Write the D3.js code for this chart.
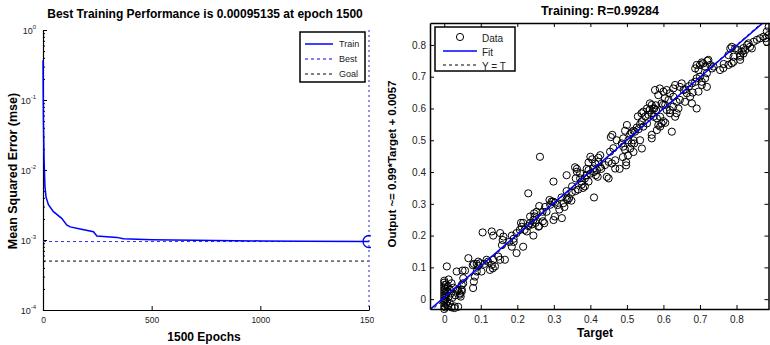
<!DOCTYPE html>
<html>
<head>
<meta charset="utf-8">
<script src="https://cdn.jsdelivr.net/npm/d3@7"></script>
<style>
  body { margin: 0; background: #fff; }
  svg { font-family: "Liberation Sans", Arial, sans-serif; }
  .bold { font-weight: bold; }
</style>
</head>
<body>
<svg id="chart" width="770" height="345"></svg>
<script>
// ---- left panel data: training performance ----
var epochs = [0, 1, 2, 5, 9, 14, 25, 48, 86, 109, 125, 171, 232, 248, 340, 370, 500, 700, 1000, 1200, 1500];
var mse = [0.37, 0.12, 0.05, 0.0139, 0.0058, 0.0041, 0.0032, 0.00254, 0.00204, 0.00164, 0.00154, 0.00144,
           0.00131, 0.00114, 0.00109, 0.00104, 0.00101, 0.00099, 0.00097, 0.00096, 0.00095135];
var bestEpoch = 1500, bestPerf = 0.00095135, goal = 0.0005;
var epochTicks = [0, 500, 1000, 1500];
var decadeExps = [0, -1, -2, -3, -4];
var perfLegend = ["Train", "Best", "Goal"];

// ---- right panel data: regression (target, output) ----
var fitSlope = 0.99, fitOffset = 0.0057, rValue = 0.99284;
var regTicks = [0, 0.1, 0.2, 0.3, 0.4, 0.5, 0.6, 0.7, 0.8];
var regLegend = ["Data", "Fit", "Y = T"];
var trainPoints = [
  // targets near zero
  [0,-0.031],[0,-0.022],[0,-0.012],[0,-0.004],[0,0.004],[0,0.012],[0,0.02],[0,0.028],[0,0.036],[0,0.044],[0,0.052],[0,0.058],
  [0.003,-0.026],[0.003,0],[0.003,0.032],[0.005,-0.016],[0.005,0.016],[0.005,0.046],[0.008,-0.008],[0.008,0.024],
  [0.01,-0.02],[0.01,0.04],[0.012,0.008],[0.012,0.062],[0.015,-0.012],[0.015,0.03],[0.018,0.018],[0.02,-0.026],
  [0.02,0.05],[0.022,0.004],[0.025,0.036],[0.028,-0.028],[0.03,0.012],[0.035,0.026],[0.038,-0.024],[0.043,0.018],
  [0.045,0.008],[0.048,0.03],
  // 0.0 - 0.25
  [0.007,0.103],[0.034,0.087],[0.05,0.09],[0.057,0.09],[0.066,0.129],[0.078,0.107],[0.081,0.111],[0.089,0.111],
  [0.093,0.104],[0.098,0.113],[0.093,0.118],[0.11,0.111],[0.116,0.124],[0.089,0.087],[0.102,0.087],[0.084,0.071],
  [0.081,0.055],[0.079,0.035],[0.052,0.066],[0.052,0.05],[0.048,0.045],[0.043,0.014],[0.038,0.029],[0.048,0.024],
  [0.029,-0.023],[0.148,0.134],[0.153,0.124],[0.166,0.124],[0.198,0.145],[0.216,0.165],[0.134,0.124],[0.125,0.092],
  [0.133,0.097],[0.139,0.103],[0.12,0.118],[0.13,0.108],[0.105,0.21],[0.134,0.2],[0.13,0.213],[0.162,0.197],
  [0.153,0.208],[0.16,0.186],[0.158,0.17],[0.178,0.18],[0.185,0.165],[0.19,0.18],[0.185,0.2],[0.198,0.208],
  [0.207,0.218],[0.212,0.228],[0.226,0.213],[0.23,0.23],[0.235,0.239],[0.244,0.2],[0.216,0.24],[0.21,0.24],
  [0.22,0.218],[0.19,0.19],
  // 0.23 - 0.35
  [0.246,0.27],[0.253,0.275],[0.26,0.293],[0.248,0.26],[0.235,0.26],[0.244,0.249],[0.267,0.26],[0.269,0.275],
  [0.28,0.275],[0.276,0.29],[0.29,0.297],[0.294,0.307],[0.298,0.307],[0.303,0.304],[0.288,0.312],[0.299,0.249],
  [0.303,0.26],[0.322,0.255],[0.299,0.37],[0.262,0.448],[0.23,0.333],[0.31,0.296],[0.315,0.282],[0.326,0.302],
  [0.329,0.29],[0.338,0.312],[0.342,0.318],[0.335,0.315],[0.321,0.32],[0.348,0.31],[0.258,0.228],[0.274,0.239],
  [0.26,0.23],[0.27,0.245],[0.25,0.24],[0.24,0.235],
  // 0.33 - 0.47
  [0.335,0.39],[0.363,0.41],[0.372,0.396],[0.35,0.355],[0.359,0.34],[0.367,0.345],[0.335,0.34],[0.349,0.335],
  [0.363,0.401],[0.36,0.38],[0.376,0.36],[0.38,0.35],[0.385,0.355],[0.41,0.32],[0.385,0.38],[0.39,0.39],
  [0.376,0.37],[0.372,0.38],[0.395,0.406],[0.408,0.411],[0.413,0.427],[0.422,0.432],[0.427,0.416],[0.418,0.406],
  [0.4,0.448],[0.427,0.453],[0.422,0.445],[0.44,0.422],[0.45,0.432],[0.459,0.427],[0.468,0.411],[0.468,0.437],
  [0.445,0.385],[0.45,0.38],[0.395,0.43],[0.405,0.44],[0.358,0.415],[0.39,0.41],[0.4,0.395],[0.41,0.4],
  [0.415,0.39],[0.43,0.41],[0.395,0.37],[0.42,0.385],
  // 0.45 - 0.62
  [0.48,0.41],[0.498,0.431],[0.498,0.421],[0.489,0.447],[0.503,0.452],[0.518,0.463],[0.454,0.464],[0.463,0.475],
  [0.456,0.51],[0.46,0.517],[0.472,0.5],[0.486,0.49],[0.49,0.48],[0.495,0.47],[0.49,0.506],[0.495,0.53],
  [0.5,0.548],[0.504,0.5],[0.509,0.52],[0.513,0.525],[0.518,0.53],[0.527,0.54],[0.522,0.527],[0.532,0.535],
  [0.536,0.55],[0.541,0.56],[0.536,0.5],[0.541,0.474],[0.509,0.474],[0.513,0.49],[0.52,0.49],[0.518,0.5],
  [0.545,0.543],[0.55,0.575],[0.555,0.553],[0.559,0.58],[0.568,0.585],[0.573,0.574],[0.582,0.569],[0.591,0.574],
  [0.568,0.611],[0.568,0.517],[0.568,0.506],[0.586,0.548],[0.582,0.532],[0.591,0.543],[0.595,0.553],[0.6,0.56],
  [0.605,0.555],[0.623,0.527],[0.53,0.575],[0.545,0.59],[0.555,0.6],[0.562,0.595],[0.575,0.6],[0.579,0.61],
  [0.54,0.585],
  // 0.56 - 0.72
  [0.6,0.653],[0.609,0.658],[0.618,0.648],[0.627,0.663],[0.632,0.674],[0.627,0.637],[0.614,0.627],[0.605,0.611],
  [0.595,0.616],[0.609,0.595],[0.627,0.606],[0.636,0.621],[0.636,0.585],[0.632,0.574],[0.618,0.585],[0.577,0.658],
  [0.59,0.663],[0.586,0.642],[0.604,0.632],[0.563,0.616],[0.571,0.6],[0.58,0.595],[0.599,0.611],[0.645,0.668],
  [0.65,0.679],[0.655,0.658],[0.664,0.648],[0.673,0.637],[0.678,0.616],[0.641,0.6],[0.618,0.595],[0.645,0.627],
  [0.659,0.621],[0.691,0.6],[0.696,0.653],[0.678,0.679],[0.687,0.684],[0.691,0.695],[0.7,0.7],[0.705,0.684],
  [0.714,0.695],[0.719,0.711],[0.705,0.674],[0.719,0.668],[0.66,0.66],[0.67,0.67],[0.68,0.65],
  // 0.69 - 0.89
  [0.714,0.732],[0.7,0.737],[0.709,0.742],[0.691,0.737],[0.687,0.726],[0.696,0.721],[0.723,0.753],[0.728,0.737],
  [0.733,0.726],[0.737,0.732],[0.755,0.721],[0.764,0.727],[0.778,0.737],[0.787,0.742],[0.792,0.747],[0.81,0.763],
  [0.815,0.779],[0.819,0.79],[0.829,0.8],[0.833,0.805],[0.837,0.794],[0.847,0.81],[0.856,0.816],[0.865,0.821],
  [0.874,0.826],[0.888,0.857],[0.883,0.842],[0.883,0.81],[0.81,0.753],[0.824,0.784],[0.783,0.789],[0.787,0.794],
  [0.796,0.789],[0.805,0.784],[0.778,0.768],[0.792,0.763],[0.81,0.768],[0.819,0.773],[0.842,0.789],[0.879,0.821],
  [0.888,0.831],[0.72,0.75],[0.705,0.745],[0.765,0.74]
];

var svg = d3.select("#chart");
svg.append("rect").attr("width", 770).attr("height", 345).attr("fill", "#fff");

// ================= LEFT: performance =================
var defs = svg.append("defs");
defs.append("clipPath").attr("id", "leftClip")
  .append("rect").attr("x", 0).attr("y", 0).attr("width", 371).attr("height", 345);
defs.append("clipPath").attr("id", "labelClip")
  .append("rect").attr("x", 0).attr("y", 0).attr("width", 374).attr("height", 345);
defs.append("clipPath").attr("id", "regClip")
  .append("rect").attr("x", 430).attr("y", 23).attr("width", 339).attr("height", 286);

var left = svg.append("g").attr("clip-path", "url(#leftClip)");
var xL = d3.scaleLinear().domain([0, 1500]).range([43, 369]);
var yL = d3.scaleLog().domain([1e-4, 1]).range([310, 30]);

// minor log ticks
var minorVals = [];
decadeExps.forEach(function(e) {
  if (e === 0) return;
  for (var k = 2; k <= 9; k++) minorVals.push(k * Math.pow(10, e));
});
left.append("g").attr("transform", "translate(43,0)")
  .call(d3.axisLeft(yL).tickValues(minorVals).tickSize(-2).tickFormat(""))
  .call(function(g) { g.select(".domain").remove(); })
  .selectAll("line").attr("stroke", "#000");

var yAxisL = left.append("g").attr("transform", "translate(43,0)")
  .call(d3.axisLeft(yL).tickValues(decadeExps.map(function(e) { return Math.pow(10, e); }))
    .tickSize(-4).tickFormat(""));
yAxisL.select(".domain").attr("stroke", "#000").attr("stroke-width", 1.2);

// y tick labels 10^e
decadeExps.forEach(function(e) {
  var t = left.append("text").attr("x", 36).attr("y", yL(Math.pow(10, e)) + 3.5)
    .attr("text-anchor", "end").attr("font-size", 9).attr("fill", "#222");
  t.append("tspan").text("10");
  t.append("tspan").attr("dy", -4.5).attr("font-size", 6).text(e);
});

var xAxisL = svg.append("g").attr("clip-path", "url(#labelClip)").append("g")
  .attr("transform", "translate(0,310)")
  .call(d3.axisBottom(xL).tickValues(epochTicks).tickFormat(d3.format("d"))
    .tickSize(-4).tickPadding(7).tickSizeOuter(0));
xAxisL.select(".domain").attr("stroke", "#000").attr("stroke-width", 1.2);
xAxisL.selectAll("text").attr("font-size", 8.5).attr("fill", "#222")
  .attr("font-family", "Liberation Sans, Arial, sans-serif");

// goal and best lines
left.append("line").attr("x1", xL(0)).attr("x2", xL(1500)).attr("y1", yL(goal)).attr("y2", yL(goal))
  .attr("stroke", "#000").attr("stroke-width", 1).attr("stroke-dasharray", "3,3");
left.append("line").attr("x1", xL(0)).attr("x2", xL(1500)).attr("y1", yL(bestPerf)).attr("y2", yL(bestPerf))
  .attr("stroke", "#3333ee").attr("stroke-width", 1).attr("stroke-dasharray", "3,3");
left.append("line").attr("x1", xL(bestEpoch)).attr("x2", xL(bestEpoch)).attr("y1", yL(1)).attr("y2", yL(1e-4))
  .attr("stroke", "#6f6fd8").attr("stroke-width", 1.5).attr("stroke-dasharray", "2,3");

// training curve
var lineL = d3.line().x(function(d, i) { return xL(epochs[i]); }).y(function(d) { return yL(d); });
left.append("path").datum(mse).attr("d", lineL)
  .attr("fill", "none").attr("stroke", "#0000ff").attr("stroke-width", 1.5);
left.append("circle").attr("cx", xL(bestEpoch)).attr("cy", yL(bestPerf)).attr("r", 6)
  .attr("fill", "none").attr("stroke", "#0000ff").attr("stroke-width", 1.3);

// legend
var lg = left.append("g");
lg.append("rect").attr("x", 300).attr("y", 32).attr("width", 65).attr("height", 50)
  .attr("fill", "#fff").attr("stroke", "#000").attr("stroke-width", 1.5);
var perfStyles = [{c: "#0000ff", d: null}, {c: "#0000ff", d: "3,3"}, {c: "#000", d: "3,3"}];
perfLegend.forEach(function(name, i) {
  var y = 44 + i * 15;
  lg.append("line").attr("x1", 305).attr("x2", 333).attr("y1", y).attr("y2", y)
    .attr("stroke", perfStyles[i].c).attr("stroke-width", i === 0 ? 1.5 : 1)
    .attr("stroke-dasharray", perfStyles[i].d);
  lg.append("text").attr("x", 339).attr("y", y).attr("dy", "0.35em")
    .attr("font-size", 9).attr("fill", "#222").text(name);
});

// titles / labels
svg.append("text").attr("class", "bold").attr("x", 205).attr("y", 18).attr("text-anchor", "middle")
  .attr("font-size", 12).text("Best Training Performance is " + bestPerf + " at epoch " + bestEpoch);
svg.append("text").attr("class", "bold").attr("x", 204).attr("y", 341).attr("text-anchor", "middle")
  .attr("font-size", 12).text("1500 Epochs");
svg.append("text").attr("class", "bold").attr("transform", "translate(17,171) rotate(-90)")
  .attr("text-anchor", "middle").attr("font-size", 12.5).text("Mean Squared Error  (mse)");

// ================= RIGHT: regression =================
var xR = d3.scaleLinear().domain([-0.039, 0.889]).range([430, 769]);
var yR = d3.scaleLinear().domain([-0.031, 0.869]).range([309, 23]);
var right = svg.append("g");

// data circles
right.append("g").selectAll("circle").data(trainPoints).enter().append("circle")
  .attr("cx", function(d) { return xR(d[0]); })
  .attr("cy", function(d) { return yR(d[1]); })
  .attr("r", 3.6).attr("fill", "none").attr("stroke", "#000").attr("stroke-width", 1);

// Y = T and fit
var tDom = xR.domain();
var plotArea = right.append("g").attr("clip-path", "url(#regClip)");
plotArea.append("line").attr("x1", xR(tDom[0])).attr("y1", yR(tDom[0]))
  .attr("x2", xR(tDom[1])).attr("y2", yR(tDom[1]))
  .attr("stroke", "#000").attr("stroke-width", 1).attr("stroke-dasharray", "3,3");
plotArea.append("line").attr("x1", xR(tDom[0])).attr("y1", yR(fitSlope * tDom[0] + fitOffset))
  .attr("x2", xR(tDom[1])).attr("y2", yR(fitSlope * tDom[1] + fitOffset))
  .attr("stroke", "#0000ff").attr("stroke-width", 1.5);

// axes with inward ticks on four sides
function styleAxis(g) {
  g.select(".domain").attr("stroke", "#000").attr("stroke-width", 1.5);
  g.selectAll("line").attr("stroke", "#000");
  g.selectAll("text").attr("font-size", 10).attr("fill", "#222")
    .attr("font-family", "Liberation Sans, Arial, sans-serif");
}
var fmt = d3.format(".1~f");
right.append("g").attr("transform", "translate(0,309)")
  .call(d3.axisBottom(xR).tickValues(regTicks).tickFormat(fmt).tickSize(-4).tickPadding(7).tickSizeOuter(0))
  .call(styleAxis);
right.append("g").attr("transform", "translate(0,23)")
  .call(d3.axisTop(xR).tickValues(regTicks).tickFormat("").tickSize(-4).tickSizeOuter(0))
  .call(styleAxis);
right.append("g").attr("transform", "translate(430,0)")
  .call(d3.axisLeft(yR).tickValues(regTicks).tickFormat(fmt).tickSize(-4).tickPadding(4).tickSizeOuter(0))
  .call(styleAxis);
right.append("g").attr("transform", "translate(768.5,0)")
  .call(d3.axisRight(yR).tickValues(regTicks).tickFormat("").tickSize(-4).tickSizeOuter(0))
  .call(styleAxis);

// legend
var rg = right.append("g");
rg.append("rect").attr("x", 435).attr("y", 27).attr("width", 80).attr("height", 44)
  .attr("fill", "#fff").attr("stroke", "#000").attr("stroke-width", 1.5);
rg.append("circle").attr("cx", 460).attr("cy", 37).attr("r", 3.6)
  .attr("fill", "none").attr("stroke", "#000");
rg.append("line").attr("x1", 443).attr("x2", 477).attr("y1", 51).attr("y2", 51)
  .attr("stroke", "#0000ff").attr("stroke-width", 1.5);
rg.append("line").attr("x1", 443).attr("x2", 477).attr("y1", 65).attr("y2", 65)
  .attr("stroke", "#000").attr("stroke-width", 1).attr("stroke-dasharray", "3,3");
regLegend.forEach(function(name, i) {
  rg.append("text").attr("x", 482).attr("y", 38 + i * 14).attr("dy", "0.35em")
    .attr("font-size", 10).attr("fill", "#222").text(name);
});

svg.append("text").attr("class", "bold").attr("x", 600).attr("y", 15).attr("text-anchor", "middle")
  .attr("font-size", 12.5).text("Training: R=" + rValue);
svg.append("text").attr("class", "bold").attr("x", 595).attr("y", 337).attr("text-anchor", "middle")
  .attr("font-size", 12).text("Target");
svg.append("text").attr("class", "bold").attr("transform", "translate(396,164) rotate(-90)")
  .attr("text-anchor", "middle").attr("font-size", 11.5)
  .text("Output ~= " + fitSlope + "*Target + " + fitOffset);
</script>
</body>
</html>
